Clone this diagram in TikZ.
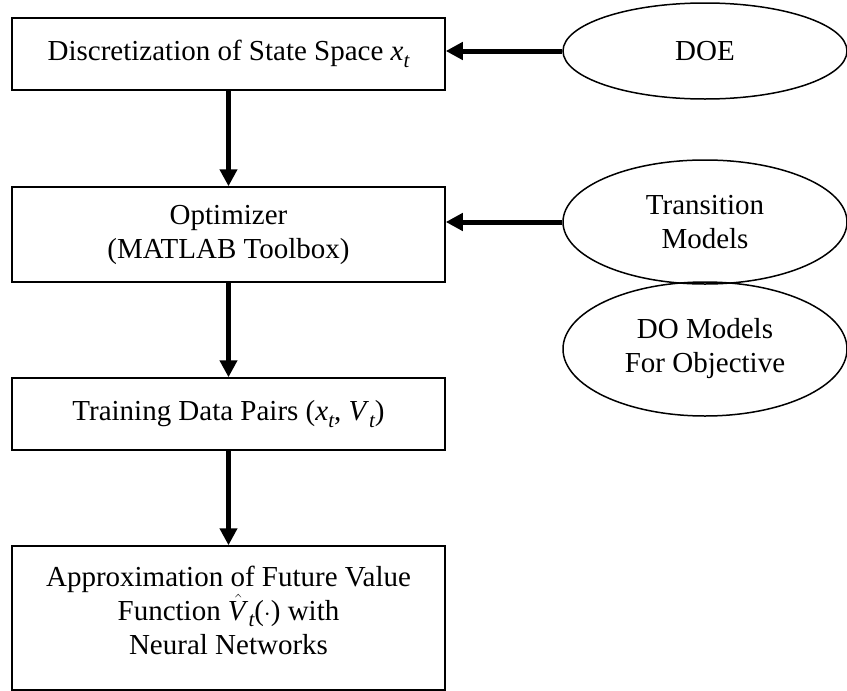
\documentclass[tikz,border=0pt]{standalone}
\usepackage{fontspec}
\setmainfont{Liberation Serif}
\usetikzlibrary{arrows.meta,shapes.geometric}

% italic variable with a lowered italic subscript, set in the text font
\newcommand{\subt}[1]{\raisebox{-0.22em}{\fontsize{21}{21}\selectfont\itshape #1}}
\newcommand{\ivar}[2]{\textit{#1}\subt{#2}}

\begin{document}
\begin{tikzpicture}[x=1pt,y=-1pt,
  every node/.style={font=\fontsize{29}{34}\selectfont, align=center, inner sep=0pt},
  procbox/.style={draw=black, line width=1.5pt, rectangle, minimum width=433pt},
  inputell/.style={draw=black, line width=1.5pt, ellipse, minimum width=284pt},
  flow/.style={line width=5pt, -{Triangle[length=17pt,width=17pt]}}
]
\useasboundingbox (0,0) rectangle (847,691);

% main process column
\node[procbox, minimum height=72pt]  (disc)  at (228.5,54)  {Discretization of State Space \ivar{x}{t}};
\node[procbox, minimum height=95pt]  (opt)   at (228.5,234.5) {Optimizer\\(MATLAB Toolbox)};
\node[procbox, minimum height=72pt]  (train) at (228.5,414) {Training Data Pairs (\ivar{x}{t}, \ivar{V}{t})};
% the short empty last line lifts the three text lines a little above centre
\node[procbox, minimum height=144pt] (approx) at (228.5,618)
  {Approximation of Future Value\\Function $\hat{\mbox{\textit{V}}}$\subt{t}($\cdot$) with\\Neural Networks\\[-18pt]\mbox{}};

% inputs on the right
\node[inputell, minimum height=96pt]  (doe)   at (705,51)  {DOE};
\node[inputell, minimum height=124pt] (trans) at (705,222) {Transition\\Models};
\node[inputell, minimum height=134pt] (dom)   at (705,349) {DO Models\\For Objective};

% connectors
\draw[flow] (disc.south) -- (opt.north);
\draw[flow] (opt.south) -- (train.north);
\draw[flow] (train.south) -- (approx.north);
\draw[flow] (doe.west) -- (doe.west -| disc.east);
\draw[flow] (trans.west) -- (trans.west -| opt.east);
\end{tikzpicture}
\end{document}
